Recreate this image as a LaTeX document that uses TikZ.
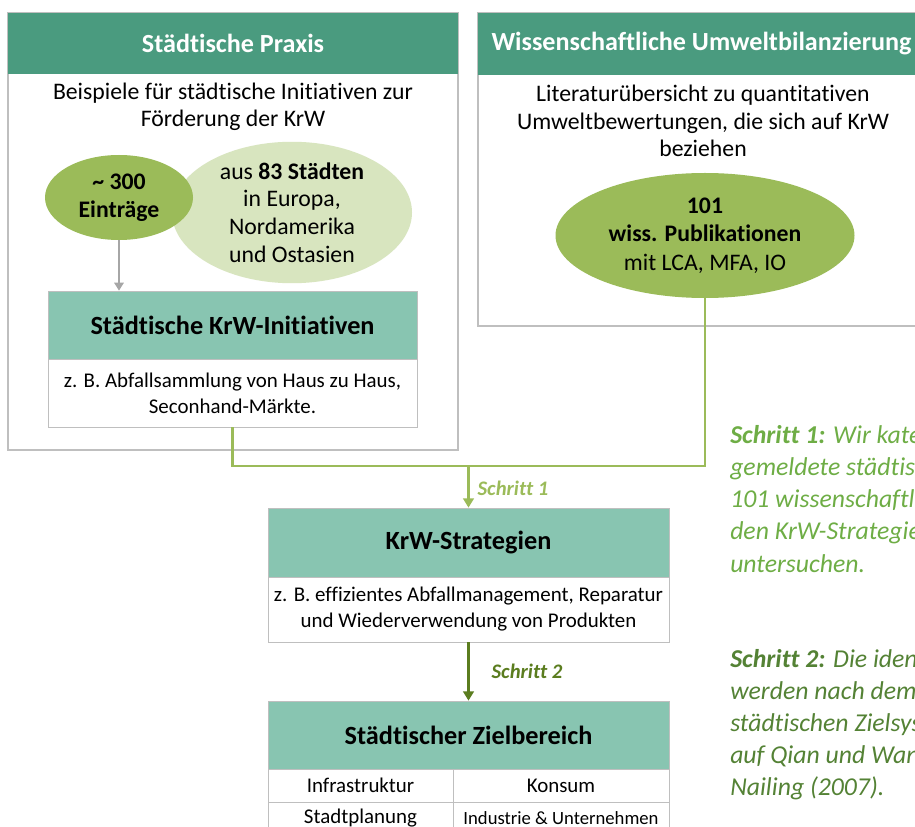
\documentclass[tikz,border=0pt]{standalone}
\usepackage{fontspec}
\setmainfont{Carlito}[Ligatures=NoCommon]
\usetikzlibrary{arrows.meta,shapes.geometric,calc}
\definecolor{hdr}{HTML}{4A9B7F}
\definecolor{sub}{HTML}{88C5B1}
\definecolor{olive}{HTML}{9BBB59}
\definecolor{olivel}{HTML}{D8E5BF}
\definecolor{linegreen}{HTML}{9BBB59}
\definecolor{darkgreen}{HTML}{5B7D1F}
\definecolor{txtgreen}{HTML}{6EAD45}
\definecolor{txtdark}{HTML}{548235}
\definecolor{frame}{HTML}{BFBFBF}
\tikzset{
  outer/.style={draw=frame, line width=0.8pt, fill=white, inner sep=0pt},
  header/.style={fill=hdr, text=white, inner sep=0pt, font=\fontsize{19.6}{22}\selectfont\bfseries},
  subhead/.style={fill=sub, draw=frame, line width=0.5pt, inner sep=0pt, font=\fontsize{19.7}{22}\selectfont\bfseries},
  body/.style={fill=white, draw=frame, line width=0.6pt, inner sep=0pt, align=center, font=\fontsize{15.7}{19.5}\selectfont},
  intro/.style={align=center, inner sep=0pt, font=\fontsize{17.8}{20.5}\selectfont},
  darkell/.style={ellipse, fill=olive, inner sep=0pt, align=center, font=\fontsize{17.8}{21.4}\selectfont},
  lightell/.style={ellipse, fill=olivel, inner sep=0pt, align=center, font=\fontsize{17.8}{20.8}\selectfont},
  cell/.style={fill=white, draw=frame, line width=0.5pt, inner sep=0pt, font=\fontsize{15.7}{18}\selectfont},
  note/.style={anchor=base west, inner sep=0pt, font=\fontsize{19.3}{22}\selectfont\itshape},
  steplbl/.style={inner sep=0pt, font=\fontsize{15.5}{18}\selectfont\bfseries\itshape},
}
\begin{document}
\begin{tikzpicture}[x=0.75pt,y=-0.75pt]
\useasboundingbox (0,0) rectangle (915,827);
\clip (0,0) rectangle (915,827);

% left panel
\node[outer, minimum width=337.5pt, minimum height=327.75pt] (lbox) at (233,231.5) {};
\node[header, minimum width=337.5pt, minimum height=45.75pt] (lhead) at (233,43.5) {Städtische Praxis};
\node[intro] (lintro) at (233,107) {Beispiele für städtische Initiativen zur\\Förderung der KrW};
\node[lightell, minimum width=180pt, minimum height=96.75pt] (ecity) at (292,212.5) {aus \textbf{83 Städten}\\in Europa,\\Nordamerika\\und Ostasien};
\node[darkell, minimum width=111pt, minimum height=63.75pt, font=\fontsize{17.8}{21}\selectfont\bfseries] (e300) at (119,197.5) {\textasciitilde{} 300\\Einträge};
\node[subhead, minimum width=276.75pt, minimum height=51pt] (inith) at (232.5,325) {Städtische KrW-Initiativen};
\node[body, minimum width=276.75pt, minimum height=51pt] (initb) at (232.5,393) {z. B. Abfallsammlung von Haus zu Haus,\\Seconhand-Märkte.};

% right panel
\node[outer, minimum width=335.25pt, minimum height=234.75pt] (rbox) at (701.5,169.5) {};
\node[header, minimum width=335.25pt, minimum height=46.5pt] (rhead) at (701.5,44) {Wissenschaftliche Umweltbilanzierung};
\node[intro] (rintro) at (703,121) {Literaturübersicht zu quantitativen\\Umweltbewertungen, die sich auf KrW\\beziehen};
\node[darkell, minimum width=224.25pt, minimum height=93.75pt] (e101) at (705,235.5) {\textbf{101}\\\textbf{wiss. Publikationen}\\mit LCA, MFA, IO};

% strategies
\node[subhead, minimum width=300.75pt, minimum height=51.75pt] (strath) at (468.5,542.5) {KrW-Strategien};
\node[body, minimum width=300.75pt, minimum height=48.75pt] (stratb) at (468.5,609.5) {z. B. effizientes Abfallmanagement, Reparatur\\und Wiederverwendung von Produkten};

% target area
\node[subhead, minimum width=300.75pt, minimum height=51pt] (zielh) at (468.5,735) {Städtischer Zielbereich};
\node[cell, minimum width=138.75pt, minimum height=24.75pt] (c11) at (360.5,785.5) {Infrastruktur};
\node[cell, minimum width=162pt, minimum height=24.75pt] (c12) at (561,785.5) {Konsum};
\node[cell, minimum width=138.75pt, minimum height=24.75pt] (c21) at (360.5,818.5) {Stadtplanung};
\node[cell, minimum width=162pt, minimum height=24.75pt, font=\fontsize{14}{16}\selectfont] (c22) at (561,818.5) {Industrie \& Unternehmen};

% connectors
\draw[draw=gray!70, line width=1.6pt, -{Triangle[length=6pt,width=7pt]}] (e300.south) -- (e300.south |- inith.north);
\coordinate (j) at (468.5,466);
\draw[draw=linegreen, line width=2.2pt] (initb.south) |- (j) -| (e101.south);
\draw[draw=linegreen, line width=2.2pt, -{Triangle[length=7pt,width=8pt]}] (j) -- (strath.north);
\node[steplbl, text=linegreen] (s1) at (513,488) {Schritt 1};
\draw[draw=darkgreen, line width=2.2pt, -{Triangle[length=7pt,width=8pt]}] (stratb.south) -- (zielh.north);
\node[steplbl, text=darkgreen] (s2) at (527,671) {Schritt 2};

% notes
\node[note, text=txtgreen] (n11) at (730,444) {\textbf{Schritt 1:} Wir kategorisieren die};
\node[note, text=txtgreen] (n12) at (730,476) {gemeldete städtische Initiativen und};
\node[note, text=txtgreen] (n13) at (730,508) {101 wissenschaftliche Publikationen nach};
\node[note, text=txtgreen] (n14) at (730,540) {den KrW-Strategien, die sie};
\node[note, text=txtgreen] (n15) at (730,572) {untersuchen.};
\node[note, text=txtdark] (n21) at (730,667) {\textbf{Schritt 2:} Die identifizierten Strategien};
\node[note, text=txtdark] (n22) at (730,699) {werden nach dem Rahmen des};
\node[note, text=txtdark] (n23) at (730,731) {städtischen Zielsystems basierend};
\node[note, text=txtdark] (n24) at (730,763) {auf Qian und Wang und};
\node[note, text=txtdark] (n25) at (730,795) {Nailing (2007).};
\end{tikzpicture}
\end{document}
